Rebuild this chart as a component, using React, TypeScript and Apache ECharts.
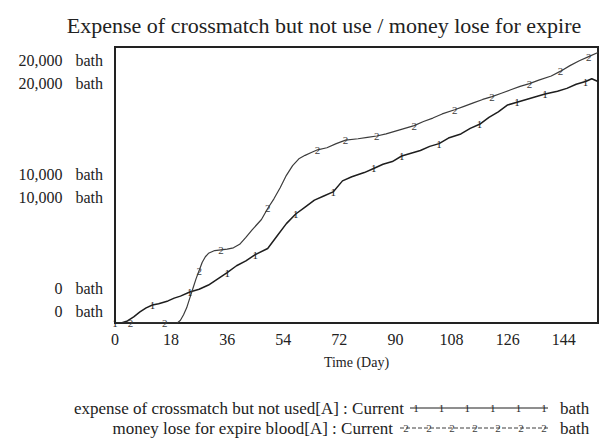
import React, { useEffect, useRef } from "react";
import * as echarts from "echarts";

const TITLE = "Expense of crossmatch but not use / money lose for expire";
const SERIES1_NAME = "expense of crossmatch but not used[A] : Current";
const SERIES2_NAME = "money lose for expire blood[A] : Current";
const UNIT = "bath";

const xTicks = [0, 18, 36, 54, 72, 90, 108, 126, 144];
const yTicks = [0, 10000, 20000];

const days1 = [0, 2, 4, 6, 8, 10, 12, 14, 17, 19, 21, 24, 27, 30, 33, 36, 39, 42, 45, 49, 52, 55, 58, 61, 64, 67, 70, 73, 76, 80, 83, 86, 89, 92, 95, 98, 101, 104, 107, 111, 114, 117, 120, 123, 126, 129, 132, 135, 138, 142, 145, 148, 151, 153, 155];
const expense = [0, 0, 150, 450, 800, 1100, 1300, 1400, 1600, 1800, 1950, 2250, 2450, 2750, 3200, 3650, 4150, 4500, 4950, 5400, 6300, 7200, 7900, 8400, 8900, 9200, 9500, 10300, 10600, 10900, 11200, 11500, 11700, 12100, 12300, 12500, 12800, 13000, 13400, 13700, 14100, 14400, 14900, 15300, 15800, 16000, 16200, 16400, 16600, 16800, 17000, 17300, 17500, 17700, 17500];

const days2 = [0, 1, 5, 10, 16, 20, 21, 22, 23, 24, 25, 26, 27, 28, 29, 30, 32, 34, 36, 38, 40, 42, 44, 47, 49, 51, 53, 55, 57, 59, 61, 63, 65, 68, 71, 74, 78, 81, 84, 87, 90, 93, 96, 99, 102, 105, 109, 112, 115, 118, 121, 124, 127, 130, 133, 136, 140, 143, 146, 149, 152, 155];
const moneyLose = [0, 0, 0, 0, 0, 0, 200, 600, 1100, 1800, 2500, 3200, 3800, 4400, 4800, 5050, 5250, 5300, 5350, 5450, 5700, 6200, 6750, 7500, 8300, 9000, 9800, 10700, 11400, 11900, 12150, 12350, 12550, 12700, 13000, 13250, 13350, 13450, 13550, 13700, 13900, 14100, 14300, 14600, 14850, 15150, 15450, 15700, 15950, 16200, 16400, 16650, 16900, 17150, 17350, 17600, 17900, 18250, 18650, 19000, 19300, 19600];

const marks1 = [0, 12, 24, 36, 45, 58, 70, 83, 92, 104, 117, 129, 138, 151];
const marks2 = [5, 16, 27, 34, 49, 65, 74, 84, 96, 109, 121, 133, 143, 152];

const FONT = "Liberation Serif";
const C1 = "#1e1e1e";
const C2 = "#3c3c3c";

function buildData(days: number[], vals: number[], marks: number[], txt: string, color: string) {
  return days.map((d, i) =>
    marks.includes(d)
      ? { value: [d, vals[i]], label: { show: true, formatter: txt, color, fontSize: 11, fontFamily: FONT, position: "inside" } }
      : { value: [d, vals[i]] }
  );
}

const fmtNum = (v: number) => v.toLocaleString("en-US");

function labelAxis(gridIndex: number) {
  return {
    type: "value",
    gridIndex,
    min: 0,
    max: 20000,
    interval: 10000,
    axisLine: { show: false },
    axisTick: { show: false },
    splitLine: { show: false },
    axisLabel: {
      margin: 12,
      formatter: (v: number) => `{n|${fmtNum(v)}}{b|${UNIT}}`,
      rich: {
        n: { width: 48, align: "right", fontSize: 16, fontFamily: FONT, color: "#222" },
        b: { padding: [0, 0, 0, 13], fontSize: 16, fontFamily: FONT, color: "#222" },
      },
    },
  };
}

export default function App() {
  const ref = useRef<HTMLDivElement>(null);
  useEffect(() => {
    const chart = echarts.init(ref.current!, null, { renderer: "svg" });
    const L = 115, R = 598, T = 47, B = 323;
    const legendSample = (y: number, x1: number, x2: number, txt: string, count: number, color: string, dash: number[] | null) => {
      const els: any[] = [
        { type: "line", shape: { x1, y1: y, x2, y2: y }, style: { stroke: color, lineWidth: 1, lineDash: dash || undefined } },
      ];
      for (let k = 0; k < count; k++) {
        const x = x1 + 6 + ((x2 - x1 - 10) * k) / (count - 1);
        els.push({ type: "text", x, y, style: { text: txt, font: `11px "${FONT}"`, fill: color, align: "center", verticalAlign: "middle" } });
      }
      return els;
    };
    const option: any = {
      animation: false,
      backgroundColor: "#fff",
      title: {
        text: TITLE,
        left: 319,
        top: 9,
        textAlign: "center",
        textStyle: { fontFamily: FONT, fontSize: 22, fontWeight: "normal", color: "#222" },
      },
      grid: [
        { left: L, top: T, width: R - L, height: B - T, show: true, borderColor: "#222", borderWidth: 2, backgroundColor: "transparent" },
        { left: L, top: 60, width: R - L, height: 228 },
        { left: L, top: 83, width: R - L, height: 228 },
      ],
      xAxis: [
        {
          type: "value",
          gridIndex: 0,
          min: 0,
          max: 155,
          interval: 18,
          name: "Time (Day)",
          nameLocation: "middle",
          nameGap: 32,
          nameTextStyle: { fontFamily: FONT, fontSize: 14, color: "#222" },
          axisLine: { show: true, lineStyle: { color: "#222", width: 2 } },
          axisTick: { show: false },
          splitLine: { show: false },
          axisLabel: {
            margin: 8,
            fontFamily: FONT,
            fontSize: 16,
            color: "#222",
            formatter: (v: number) => (xTicks.includes(v) ? String(v) : ""),
          },
        },
        { type: "value", gridIndex: 1, min: 0, max: 155, show: false },
        { type: "value", gridIndex: 2, min: 0, max: 155, show: false },
      ],
      yAxis: [
        {
          type: "value",
          gridIndex: 0,
          min: yTicks[0],
          max: yTicks[2],
          interval: 10000,
          axisLine: { show: true, lineStyle: { color: "#222", width: 2 } },
          axisTick: { show: false },
          splitLine: { show: false },
          axisLabel: { show: false },
        },
        labelAxis(1),
        labelAxis(2),
      ],
      series: [
        {
          name: SERIES1_NAME,
          type: "line",
          xAxisIndex: 0,
          yAxisIndex: 0,
          data: buildData(days1, expense, marks1, "1", C1),
          symbol: "circle",
          symbolSize: 0,
          showSymbol: true,
          lineStyle: { color: C1, width: 1.5 },
          itemStyle: { color: C1 },
        },
        {
          name: SERIES2_NAME,
          type: "line",
          xAxisIndex: 0,
          yAxisIndex: 0,
          data: buildData(days2, moneyLose, marks2, "2", C2),
          symbol: "circle",
          symbolSize: 0,
          showSymbol: true,
          lineStyle: { color: C2, width: 1.2 },
          itemStyle: { color: C2 },
        },
      ],
      graphic: [
        { type: "text", x: 404, y: 408, style: { text: SERIES1_NAME, font: `17px "${FONT}"`, fill: "#222", align: "right", verticalAlign: "middle" } },
        ...legendSample(408, 410, 548, "1", 6, C1, null),
        { type: "text", x: 560, y: 408, style: { text: UNIT, font: `17px "${FONT}"`, fill: "#222", align: "left", verticalAlign: "middle" } },
        { type: "text", x: 393, y: 428, style: { text: SERIES2_NAME, font: `17px "${FONT}"`, fill: "#222", align: "right", verticalAlign: "middle" } },
        ...legendSample(428, 400, 548, "2", 7, C2, [4, 2]),
        { type: "text", x: 560, y: 428, style: { text: UNIT, font: `17px "${FONT}"`, fill: "#222", align: "left", verticalAlign: "middle" } },
      ],
    };
    chart.setOption(option);
    return () => chart.dispose();
  }, []);
  return <div ref={ref} style={{ position: "absolute", left: 0, top: 0, width: 607, height: 444 }} />;
}
